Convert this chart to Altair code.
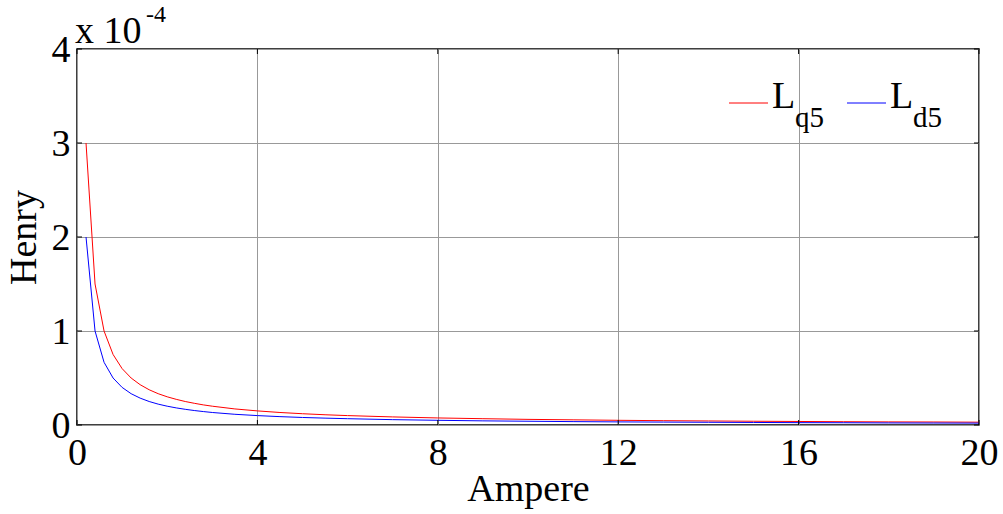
import altair as alt
import pandas as pd

# ---- data (inductance in units of 1e-4 H) ----
current = [0.2, 0.4, 0.6, 0.8, 1.0, 1.2, 1.4, 1.6, 1.8, 2.0, 2.2, 2.4, 2.6, 2.8, 3.0,
           3.5, 4.0, 4.5, 5.0, 5.5, 6.0, 7.0, 8.0, 9.0, 10.0, 11.0, 12.0, 13.0, 14.0,
           15.0, 16.0, 17.0, 18.0, 19.0, 20.0]
lq5 = [3.0, 1.5, 1.0, 0.75, 0.6, 0.5, 0.429, 0.375, 0.333, 0.3, 0.273, 0.25, 0.231, 0.214, 0.2,
       0.171, 0.15, 0.133, 0.12, 0.109, 0.1, 0.086, 0.075, 0.067, 0.06, 0.055, 0.05, 0.046, 0.043,
       0.04, 0.0375, 0.035, 0.033, 0.032, 0.03]
ld5 = [2.0, 1.0, 0.667, 0.5, 0.4, 0.333, 0.286, 0.25, 0.222, 0.2, 0.182, 0.167, 0.154, 0.143, 0.133,
       0.114, 0.1, 0.089, 0.08, 0.073, 0.067, 0.057, 0.05, 0.044, 0.04, 0.036, 0.033, 0.031, 0.029,
       0.027, 0.025, 0.024, 0.022, 0.021, 0.02]
series_names = ["Lq5", "Ld5"]
series_colors = ["#ff0000", "#0000ff"]
x_ticks = [0, 4, 8, 12, 16, 20]
y_ticks = [0, 1, 2, 3, 4]
x_title = "Ampere"
y_title = "Henry"
multiplier_text = ["x 10", "-4"]
legend_main = ["L", "L"]
legend_sub = ["q5", "d5"]

FONT = "Liberation Serif"
W, H = 902, 376

n = len(current)
df = pd.DataFrame({
    "I": current * 2,
    "L": lq5 + ld5,
    "s": [series_names[0]] * n + [series_names[1]] * n,
})

xs = alt.Scale(domain=[0, 20], nice=False, zero=False)
ys = alt.Scale(domain=[0, 4], nice=False)

x_axis = alt.Axis(values=x_ticks, title=x_title, grid=True, labelPadding=9,
                  titleX=451, titleY=75, titleBaseline="alphabetic", titleAlign="center")
y_axis = alt.Axis(values=y_ticks, title=y_title, grid=True, labelPadding=7,
                  labelBaseline="middle", labelOffset=1,
                  titleX=-42, titleY=188, titleAngle=270, titleBaseline="alphabetic",
                  titleAlign="center")

lines = alt.Chart(df).mark_line(strokeWidth=1, clip=True).encode(
    x=alt.X("I:Q", scale=xs, axis=x_axis),
    y=alt.Y("L:Q", scale=ys, axis=y_axis),
    color=alt.Color("s:N", scale=alt.Scale(domain=series_names, range=series_colors), legend=None),
)

# inward tick marks on all four sides
xt = pd.DataFrame({"I": x_ticks})
yt = pd.DataFrame({"L": y_ticks})
TL = 5
tick_layers = [
    alt.Chart(xt).mark_rule(color="black", strokeWidth=1).encode(
        x=alt.X("I:Q", scale=xs, axis=x_axis), y=alt.value(H), y2=alt.value(H - TL)),
    alt.Chart(xt).mark_rule(color="black", strokeWidth=1).encode(
        x=alt.X("I:Q", scale=xs, axis=x_axis), y=alt.value(0), y2=alt.value(TL)),
    alt.Chart(yt).mark_rule(color="black", strokeWidth=1).encode(
        y=alt.Y("L:Q", scale=ys, axis=y_axis), x=alt.value(0), x2=alt.value(TL)),
    alt.Chart(yt).mark_rule(color="black", strokeWidth=1).encode(
        y=alt.Y("L:Q", scale=ys, axis=y_axis), x=alt.value(W), x2=alt.value(W - TL)),
]

one = alt.Data(values=[{}])

mult = [
    alt.Chart(one).mark_text(text=multiplier_text[0], font=FONT, fontSize=38, align="left",
                             baseline="alphabetic", color="black").encode(
        x=alt.value(-2), y=alt.value(-6)),
    alt.Chart(one).mark_text(text=multiplier_text[1], font=FONT, fontSize=24, align="left",
                             baseline="alphabetic", color="black").encode(
        x=alt.value(69), y=alt.value(-27)),
]

legend_layers = []
lx = [652, 770]
for i in range(2):
    x0 = lx[i]
    legend_layers += [
        alt.Chart(one).mark_rule(color=series_colors[i], strokeWidth=1).encode(
            x=alt.value(x0), x2=alt.value(x0 + 39), y=alt.value(54)),
        alt.Chart(one).mark_text(text=legend_main[i], font=FONT, fontSize=38, align="left",
                                 baseline="alphabetic", color="black").encode(
            x=alt.value(x0 + 43), y=alt.value(59)),
        alt.Chart(one).mark_text(text=legend_sub[i], font=FONT, fontSize=29, align="left",
                                 baseline="alphabetic", color="black").encode(
            x=alt.value(x0 + 66), y=alt.value(78)),
    ]

chart = alt.layer(lines, *tick_layers, *mult, *legend_layers).properties(
    width=W, height=H,
    autosize=alt.AutoSizeParams(type="none"),
    padding={"left": 77, "top": 49, "right": 24, "bottom": 89},
    background="white",
).configure_view(
    stroke="black", strokeWidth=1.5
).configure_axis(
    labelFont=FONT, labelFontSize=38, labelColor="black",
    titleFont=FONT, titleFontSize=38, titleFontWeight="normal", titleColor="black",
    domain=False, ticks=False, gridColor="#999999", gridWidth=1, gridOpacity=1,
    labelFlush=False, labelOverlap=False,
)

chart.save("out.html", embed_options={"renderer": "svg", "actions": False})
